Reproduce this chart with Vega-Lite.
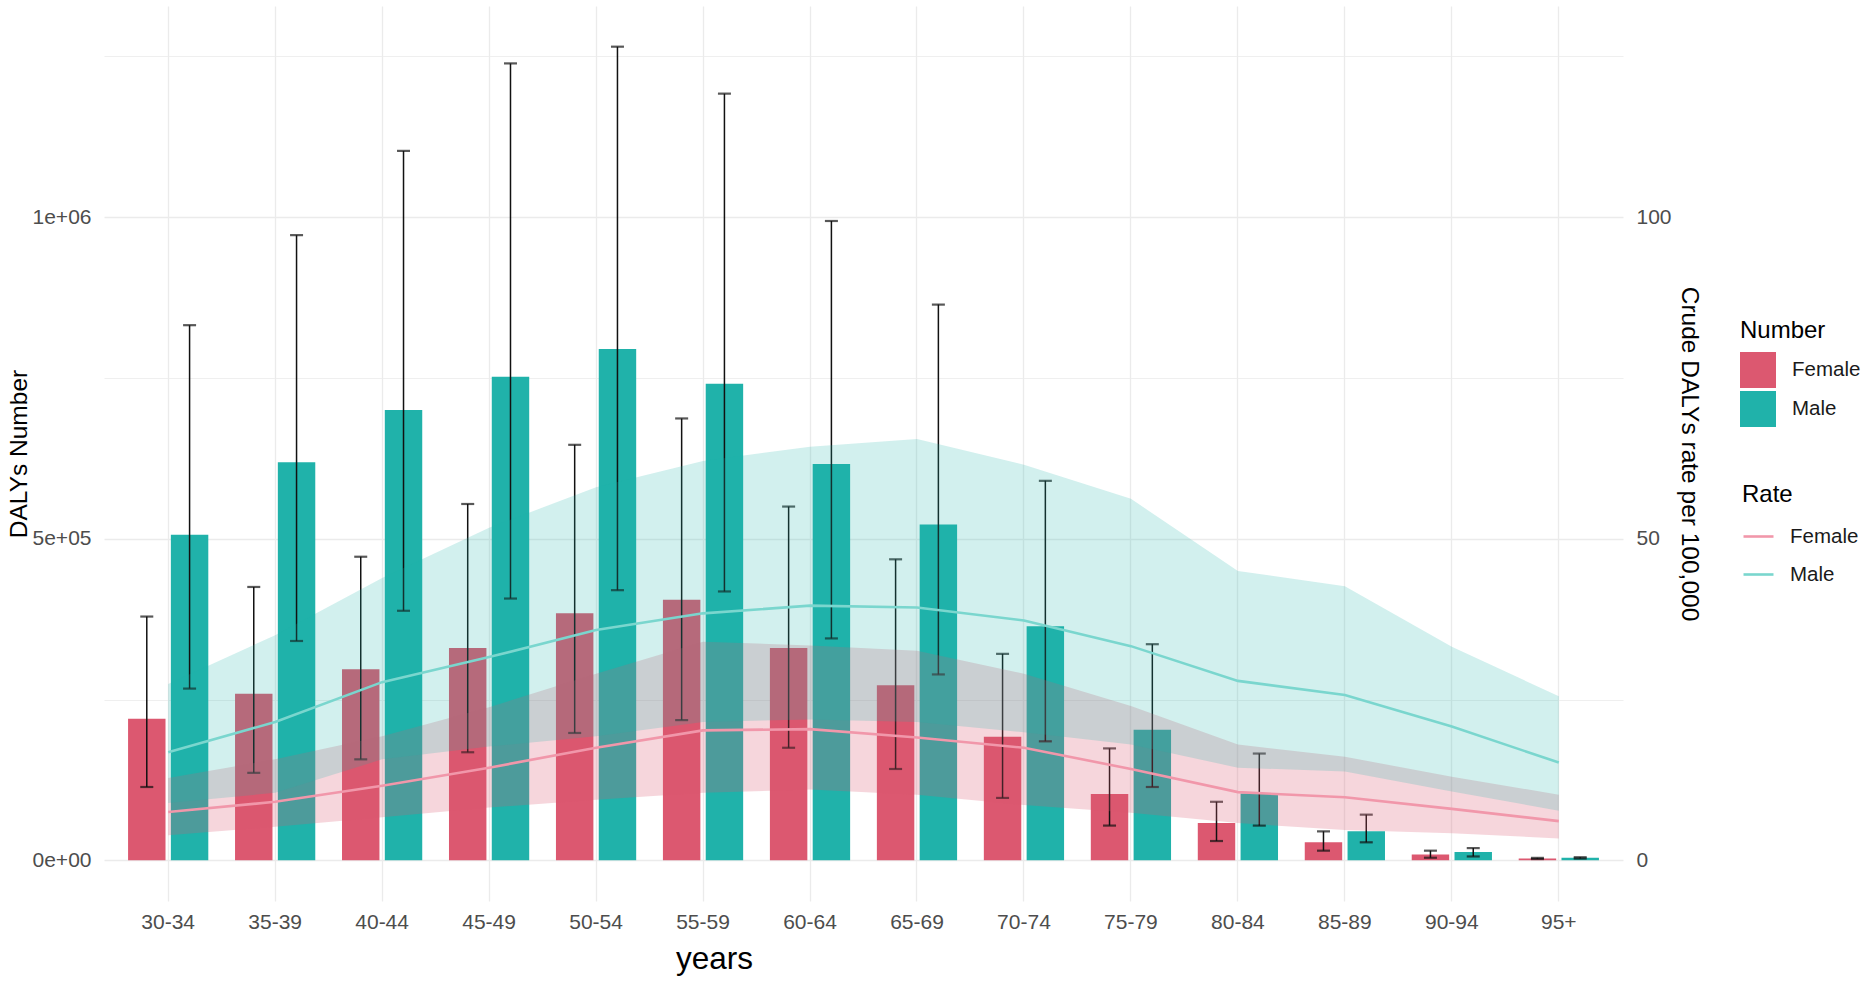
{
  "$schema": "https://vega.github.io/schema/vega-lite/v6.json",
  "width": 1519,
  "height": 895,
  "autosize": {"type": "none"},
  "padding": {"left": 104, "top": 6, "right": 245, "bottom": 80},
  "background": "white",
  "data": {
    "values": [
      {"age": "30-34", "sex": "Female", "num": 220000, "num_lo": 114000, "num_hi": 379000, "rate": 7.5, "rate_lo": 3.9, "rate_hi": 12.8},
      {"age": "30-34", "sex": "Male", "num": 506000, "num_lo": 267000, "num_hi": 832000, "rate": 16.8, "rate_lo": 8.9, "rate_hi": 27.4},
      {"age": "35-39", "sex": "Female", "num": 259000, "num_lo": 136000, "num_hi": 425000, "rate": 9.1, "rate_lo": 5.2, "rate_hi": 15.7},
      {"age": "35-39", "sex": "Male", "num": 619000, "num_lo": 341000, "num_hi": 972000, "rate": 21.5, "rate_lo": 10.5, "rate_hi": 35.0},
      {"age": "40-44", "sex": "Female", "num": 297000, "num_lo": 157000, "num_hi": 472000, "rate": 11.6, "rate_lo": 6.7, "rate_hi": 19.3},
      {"age": "40-44", "sex": "Male", "num": 700000, "num_lo": 388000, "num_hi": 1103000, "rate": 27.7, "rate_lo": 15.7, "rate_hi": 43.9},
      {"age": "45-49", "sex": "Female", "num": 330000, "num_lo": 168000, "num_hi": 554000, "rate": 14.4, "rate_lo": 8.2, "rate_hi": 23.8},
      {"age": "45-49", "sex": "Male", "num": 752000, "num_lo": 407000, "num_hi": 1239000, "rate": 31.6, "rate_lo": 17.7, "rate_hi": 51.7},
      {"age": "50-54", "sex": "Female", "num": 384000, "num_lo": 198000, "num_hi": 646000, "rate": 17.5, "rate_lo": 9.4, "rate_hi": 29.0},
      {"age": "50-54", "sex": "Male", "num": 795000, "num_lo": 420000, "num_hi": 1265000, "rate": 35.8, "rate_lo": 19.3, "rate_hi": 58.0},
      {"age": "55-59", "sex": "Female", "num": 405000, "num_lo": 218000, "num_hi": 687000, "rate": 20.2, "rate_lo": 10.5, "rate_hi": 34.0},
      {"age": "55-59", "sex": "Male", "num": 741000, "num_lo": 418000, "num_hi": 1192000, "rate": 38.4, "rate_lo": 21.5, "rate_hi": 62.1},
      {"age": "60-64", "sex": "Female", "num": 330000, "num_lo": 175000, "num_hi": 550000, "rate": 20.4, "rate_lo": 11.0, "rate_hi": 33.4},
      {"age": "60-64", "sex": "Male", "num": 616000, "num_lo": 345000, "num_hi": 994000, "rate": 39.6, "rate_lo": 21.9, "rate_hi": 64.3},
      {"age": "65-69", "sex": "Female", "num": 272000, "num_lo": 142000, "num_hi": 468000, "rate": 19.1, "rate_lo": 10.2, "rate_hi": 32.6},
      {"age": "65-69", "sex": "Male", "num": 522000, "num_lo": 289000, "num_hi": 864000, "rate": 39.3, "rate_lo": 21.5, "rate_hi": 65.5},
      {"age": "70-74", "sex": "Female", "num": 192000, "num_lo": 97000, "num_hi": 321000, "rate": 17.5, "rate_lo": 8.6, "rate_hi": 29.0},
      {"age": "70-74", "sex": "Male", "num": 364000, "num_lo": 185000, "num_hi": 590000, "rate": 37.3, "rate_lo": 19.9, "rate_hi": 61.5},
      {"age": "75-79", "sex": "Female", "num": 103000, "num_lo": 54000, "num_hi": 174000, "rate": 14.2, "rate_lo": 7.4, "rate_hi": 24.0},
      {"age": "75-79", "sex": "Male", "num": 203000, "num_lo": 114000, "num_hi": 336000, "rate": 33.3, "rate_lo": 18.0, "rate_hi": 56.2},
      {"age": "80-84", "sex": "Female", "num": 58000, "num_lo": 30000, "num_hi": 91000, "rate": 10.6, "rate_lo": 5.8, "rate_hi": 18.0},
      {"age": "80-84", "sex": "Male", "num": 104000, "num_lo": 54000, "num_hi": 166000, "rate": 27.9, "rate_lo": 14.4, "rate_hi": 45.0},
      {"age": "85-89", "sex": "Female", "num": 28000, "num_lo": 15000, "num_hi": 45000, "rate": 9.8, "rate_lo": 4.7, "rate_hi": 16.1},
      {"age": "85-89", "sex": "Male", "num": 45000, "num_lo": 28000, "num_hi": 71000, "rate": 25.7, "rate_lo": 13.8, "rate_hi": 42.6},
      {"age": "90-94", "sex": "Female", "num": 9000, "num_lo": 4000, "num_hi": 15000, "rate": 8.0, "rate_lo": 4.2, "rate_hi": 13.0},
      {"age": "90-94", "sex": "Male", "num": 13000, "num_lo": 6000, "num_hi": 19000, "rate": 20.8, "rate_lo": 10.7, "rate_hi": 33.2},
      {"age": "95+", "sex": "Female", "num": 3000, "num_lo": 2000, "num_hi": 3800, "rate": 6.1, "rate_lo": 3.4, "rate_hi": 10.2},
      {"age": "95+", "sex": "Male", "num": 4000, "num_lo": 2800, "num_hi": 4800, "rate": 15.2, "rate_lo": 7.7, "rate_hi": 25.5}
    ]
  },
  "encoding": {
    "x": {
      "field": "age",
      "type": "nominal",
      "sort": null,
      "title": "years",
      "scale": {"type": "band", "paddingInner": 0, "paddingOuter": 0.1},
      "axis": {
        "labelAngle": 0,
        "bandPosition": 0.5,
        "grid": true,
        "gridColor": "#EBEBEB",
        "gridWidth": 1.3,
        "labelPadding": 10,
        "titleFontSize": 31.5,
        "titlePadding": 11,
        "titleX": 610
      }
    }
  },
  "layer": [
    {
      "layer": [
        {
          "mark": {"type": "bar"},
          "encoding": {
            "xOffset": {"field": "sex", "type": "nominal", "scale": {"paddingInner": 0.125, "paddingOuter": 0.3125}},
            "y": {
              "field": "num",
              "type": "quantitative",
              "stack": null,
              "title": "DALYs Number",
              "scale": {"domain": [-63250, 1328250], "nice": false, "zero": false},
              "axis": {
                "orient": "left",
                "values": [0, 250000, 500000, 750000, 1000000, 1250000],
                "labelExpr": "datum.value == 0 ? '0e+00' : datum.value == 500000 ? '5e+05' : datum.value == 1000000 ? '1e+06' : ''",
                "grid": true,
                "gridColor": "#EBEBEB",
                "gridWidth": {"condition": {"test": "datum.value % 500000 == 0", "value": 1.4}, "value": 0.8},
                "labelPadding": 13,
                "titleFontSize": 24.5,
                "titlePadding": 1
              }
            },
            "color": {
              "field": "sex",
              "type": "nominal",
              "scale": {"domain": ["Female", "Male"], "range": ["#DC5870", "#20B2AA"]},
              "legend": {
                "title": "Number",
                "orient": "none",
                "legendX": 1636,
                "legendY": 313,
                "symbolType": "square",
                "symbolSize": 1296,
                "symbolStrokeWidth": 0,
                "titlePadding": 9,
                "rowPadding": 3,
                "labelOffset": 16
              }
            }
          }
        },
        {
          "mark": {"type": "rule", "color": "#111111", "strokeWidth": 1.5},
          "encoding": {
            "xOffset": {"field": "sex", "type": "nominal"},
            "y": {"field": "num_lo", "type": "quantitative"},
            "y2": {"field": "num_hi"}
          }
        },
        {
          "mark": {"type": "tick", "color": "#111111", "size": 13, "thickness": 2.2},
          "encoding": {
            "xOffset": {"field": "sex", "type": "nominal"},
            "y": {"field": "num_lo", "type": "quantitative"}
          }
        },
        {
          "mark": {"type": "tick", "color": "#111111", "size": 13, "thickness": 2.2},
          "encoding": {
            "xOffset": {"field": "sex", "type": "nominal"},
            "y": {"field": "num_hi", "type": "quantitative"}
          }
        }
      ]
    },
    {
      "encoding": {
        "x": {"field": "age", "type": "nominal", "sort": null, "bandPosition": 0.5}
      },
      "layer": [
        {
          "transform": [{"filter": "datum.sex == 'Female'"}],
          "mark": {"type": "area", "color": "#DC5870", "opacity": 0.245},
          "encoding": {
            "y": {
              "field": "rate_lo",
              "type": "quantitative",
              "title": "Crude DALYs rate per 100,000",
              "scale": {"domain": [-6.325, 132.825], "nice": false, "zero": false},
              "axis": {
                "orient": "right",
                "values": [0, 50, 100],
                "grid": false,
                "labelPadding": 13,
                "titleFontSize": 24.5,
                "titlePadding": 5
              }
            },
            "y2": {"field": "rate_hi"}
          }
        },
        {
          "transform": [{"filter": "datum.sex == 'Male'"}],
          "mark": {"type": "area", "color": "#20B2AA", "opacity": 0.2},
          "encoding": {
            "y": {"field": "rate_lo", "type": "quantitative"},
            "y2": {"field": "rate_hi"}
          }
        },
        {
          "mark": {"type": "line", "strokeWidth": 2.6},
          "encoding": {
            "y": {"field": "rate", "type": "quantitative"},
            "stroke": {
              "field": "sex",
              "type": "nominal",
              "scale": {"range": ["#F197AA", "#7AD6CE"]},
              "legend": {
                "title": "Rate",
                "orient": "none",
                "legendX": 1638,
                "legendY": 477,
                "symbolType": "stroke",
                "symbolSize": 900,
                "symbolStrokeWidth": 2.6,
                "titlePadding": 13,
                "rowPadding": 11,
                "labelOffset": 15
              }
            }
          }
        }
      ]
    }
  ],
  "resolve": {"scale": {"y": "independent"}},
  "config": {
    "font": "Liberation Sans",
    "view": {"stroke": null},
    "axis": {
      "domain": false,
      "ticks": false,
      "tickSize": 0,
      "labelFont": "Liberation Sans",
      "labelFontSize": 21,
      "labelColor": "#4D4D4D",
      "titleFont": "Liberation Sans",
      "titleFontWeight": "normal",
      "titleColor": "#000000"
    },
    "legend": {
      "titleFont": "Liberation Sans",
      "titleFontSize": 24,
      "titleFontWeight": "normal",
      "titleColor": "#000000",
      "labelFont": "Liberation Sans",
      "labelFontSize": 20.5,
      "labelColor": "#1A1A1A",
      "padding": 0
    }
  }
}
